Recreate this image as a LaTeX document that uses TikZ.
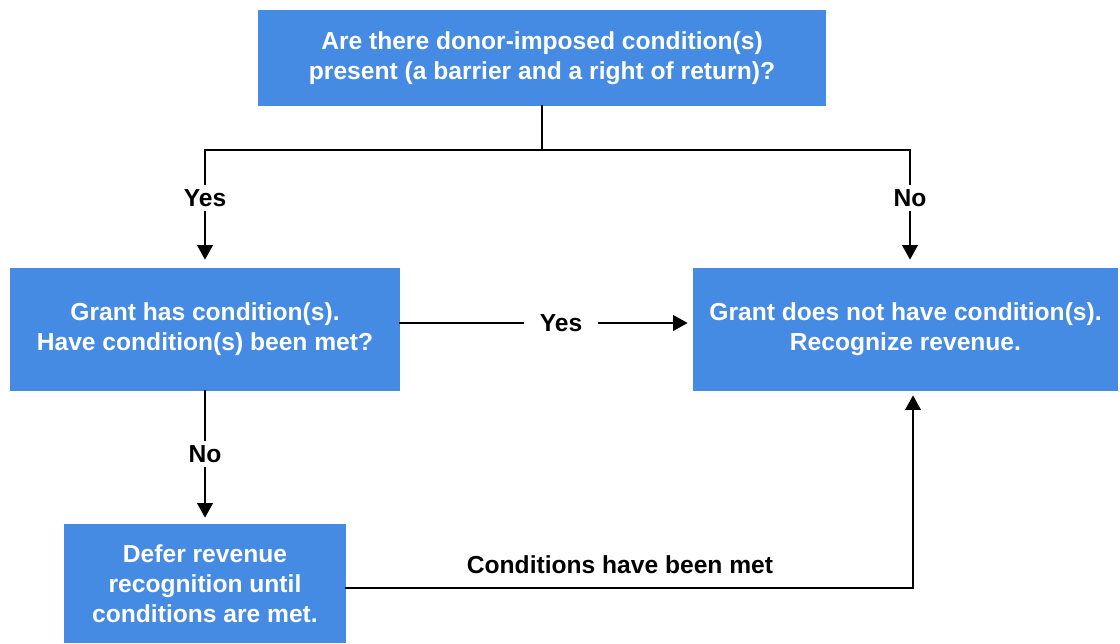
\documentclass[tikz,border=0pt]{standalone}
\usepackage{fontspec}
\setmainfont{Liberation Sans}
\usepackage{xcolor}
\usetikzlibrary{arrows.meta}

\definecolor{boxblue}{RGB}{69,139,227}

\begin{document}
\begin{tikzpicture}[>={Triangle[length=0.29cm,width=0.31cm]},
    box/.style = {fill=boxblue, text=white, align=center, inner sep=0pt,
                  font=\fontsize{14}{17.2}\selectfont\bfseries},
    lbl/.style = {inner sep=3pt, font=\fontsize{14}{17}\selectfont\bfseries},
    link/.style = {line width=0.04cm, line cap=rect}]
                    \useasboundingbox (0,0) rectangle (22.4,-12.86);

                    \node[box, minimum width=11.36cm, minimum height=1.92cm] (question) at (10.84,-1.16)
                        {Are there donor-imposed condition(s)\\present (a barrier and a right of return)?};
                    \node[box, minimum width=7.8cm, minimum height=2.46cm] (grant) at (4.1,-6.59)
                        {Grant has condition(s).\\Have condition(s) been met?};
                    \node[box, minimum width=8.5cm, minimum height=2.46cm] (recognize) at (18.11,-6.59)
                        {Grant does not have condition(s).\\Recognize revenue.};
                    \node[box, minimum width=5.64cm, minimum height=2.38cm] (defer) at (4.1,-11.67)
                        {Defer revenue\\recognition until\\conditions are met.};

                    \node[lbl] (yesleft) at (4.1,-3.96) {Yes};
                    \node[lbl] (noright) at (18.2,-3.96) {No};
                    \node[lbl, inner xsep=0.32cm] (yesmid) at (11.22,-6.46) {Yes};
                    \node[lbl] (noleft) at (4.1,-9.08) {No};
                    \node[lbl] (met) at (12.4,-11.3) {Conditions have been met};

                    \coordinate (split) at (10.84,-3.0);
                    \coordinate (corner) at (18.26,-11.76);

                    % top split
                    \draw[link] (question.south) -- (split);
                    \draw[link] (split) -| (yesleft.north);
                    \draw[link] (split) -| (noright.north);
                    \draw[link, ->, shorten >=0.16cm] (yesleft.south) -- (grant.north);
                    \draw[link, ->, shorten >=0.16cm] (noright.south) -- (noright.south |- recognize.north);

                    % middle
                    \draw[link] (grant.east |- yesmid) -- (yesmid.west);
                    \draw[link, ->, shorten >=0.1cm] (yesmid.east) -- (recognize.west |- yesmid);
                    \draw[link] (grant.south) -- (noleft.north);
                    \draw[link, ->, shorten >=0.12cm] (noleft.south) -- (defer.north);

                    % bottom
                    \draw[link, ->, shorten >=0.08cm] (defer.east |- corner) -- (corner) -- (corner |- recognize.south);
            \end{tikzpicture}
\end{document}
